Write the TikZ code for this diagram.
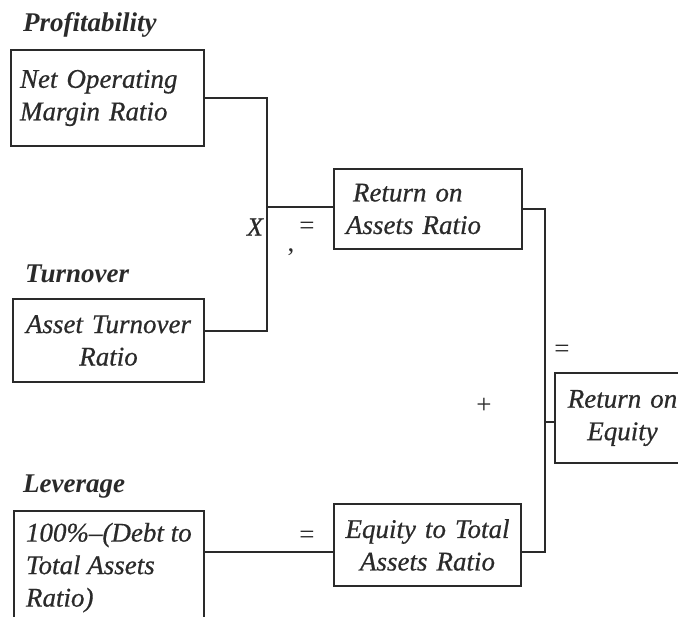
\documentclass[tikz,border=0pt]{standalone}
\usepackage{fontspec}
\setmainfont{Liberation Serif}[ItalicFeatures={FakeBold=0.6}]
\definecolor{ink}{HTML}{2A2A2A}
\begin{document}
\begin{tikzpicture}[x=1pt,y=-1pt,
  box/.style={draw=ink, line width=1.7pt, inner xsep=12pt, inner ysep=0pt, text=ink,
    font=\itshape\fontsize{27}{32.5}\selectfont},
  lab/.style={anchor=base west, inner sep=0pt, text=ink, font=\bfseries\itshape\fontsize{27}{30}\selectfont},
  sign/.style={inner sep=0pt, text=ink, font=\fontsize{27}{30}\selectfont},
  wire/.style={draw=ink, line width=1.7pt}]
\useasboundingbox (0,0) rectangle (678,617);
\clip (0,0) rectangle (678,617);
% labels
\node[lab] (lp) at (23,32) {Profitability};
\node[lab] (lt) at (25,283) {Turnover};
\node[lab] (ll) at (23,493) {Leverage};
% boxes
\node[box, minimum width=193pt, minimum height=96pt, text width=175pt, inner xsep=9pt, align=left] (b1) at (107.5,98) {Net Operating\\Margin Ratio};
\node[box, minimum width=191pt, minimum height=83pt, text width=175pt, inner xsep=8pt, align=center] (b2) at (108.5,340.5) {Asset Turnover\\Ratio};
\node[box, minimum width=188pt, minimum height=80pt, text width=170pt, inner xsep=9pt, align=left] (b3) at (428,209) {\hspace*{10pt}Return on\\\hspace*{3pt}Assets Ratio};
\node[box, anchor=north west, minimum width=190pt, inner xsep=12pt, inner ysep=12pt, align=left] (b4) at (13,510) {100\%–(Debt to\\Total Assets\\Ratio)};
\node[box, minimum width=187pt, minimum height=82pt, text width=175pt, inner xsep=6pt, align=center] (b5) at (427.5,545) {Equity to Total\\Assets Ratio};
\node[box, minimum width=135pt, minimum height=90pt, text width=123pt, inner xsep=6pt, align=center] (b6) at (622.5,418) {Return on\\Equity};
% junction points
\coordinate (jx) at (267,331);
\coordinate (jy) at (545,552);
% connectors
\draw[wire] (b1.east) -| (jx) -- (b2.east |- jx);
\draw[wire] (jx |- 0,207) -- (b3.west |- 0,207);
\draw[wire] (b3.east) -| (jy) -- (b5.east |- jy);
\draw[wire] (jy |- 0,422) -- (b6.west |- 0,422);
\draw[wire] (b4.east |- jy) -- (b5.west |- jy);
% signs
\node[sign, font=\itshape\fontsize{26}{30}\selectfont] (sx) at (255,227) {X};
\node[sign] (e1) at (307,228) {=};
\node[sign] (cm) at (291,252) {,};
\node[sign] (e2) at (562,351) {=};
\node[sign] (pl) at (484,406) {+};
\node[sign] (e3) at (307,537) {=};
\end{tikzpicture}
\end{document}
